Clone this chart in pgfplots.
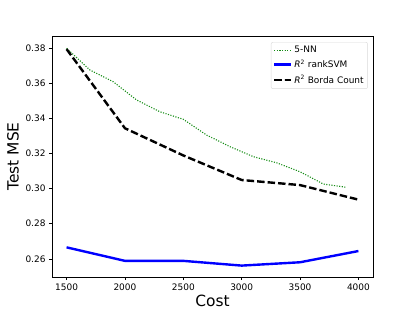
\documentclass[border=0pt]{standalone}
\usepackage{fontspec}
\setmainfont{DejaVu Sans}
\usepackage{pgfplots}
\pgfplotsset{compat=1.18}
\definecolor{mgreen}{RGB}{20,140,20}
\begin{document}
\begin{tikzpicture}
\useasboundingbox (-52bp,-34bp) rectangle (363bp,277bp);
\begin{axis}[
  scale only axis, width=321bp, height=241bp,
  at={(0,0)}, anchor=south west,
  xmin=1375, xmax=4125, ymin=0.2496, ymax=0.387,
  xtick={1500,2000,2500,3000,3500,4000},
  ytick={0.26,0.28,0.30,0.32,0.34,0.36,0.38},
  tick align=outside, tick pos=left,
  major tick length=3bp,
  every tick/.style={black, line width=0.5bp},
  axis line style={line width=0.6bp},
  /pgf/number format/assume math mode=true,
  x tick label style={/pgf/number format/1000 sep={}},
  y tick label style={/pgf/number format/fixed, /pgf/number format/precision=2, /pgf/number format/fixed zerofill},
  scaled y ticks=false,
  tick label style={font=\fontsize{9}{10}\selectfont},
  xlabel={Cost}, ylabel={Test MSE},
  label style={font=\fontsize{15.5}{18}\selectfont},
  xlabel style={at={(axis description cs:0.5,-0.1)}, anchor=center},
  ylabel style={at={(axis description cs:-0.1215,0.5)}, anchor=center},
  legend style={at={(0.984,0.975)}, anchor=north east, font=\fontsize{9}{10.5}\selectfont,
    draw=black!15, rounded corners=2bp, inner sep=2bp, row sep=1.5bp},
  legend cell align=left,
]
\addplot[mgreen, line width=1.1bp, dash pattern=on 1.1bp off 1.5bp] coordinates {
(1500,0.3800) (1700,0.3676) (1900,0.3609) (2100,0.3505) (2300,0.3438)
(2500,0.3395) (2700,0.3305) (2900,0.3239) (3100,0.3182) (3300,0.3147)
(3500,0.3096) (3700,0.3026) (3900,0.3007)};
\addlegendentry{5-NN}
\addplot[blue, line width=2.4bp] coordinates {
(1500,0.2665) (2000,0.2588) (2500,0.2588) (3000,0.2561) (3500,0.2580) (4000,0.2644)};
\addlegendentry{{\itshape R}\textsuperscript{2} rankSVM}
\addplot[black, line width=2.4bp, dash pattern=on 7.5bp off 3bp] coordinates {
(1500,0.3795) (2000,0.3344) (2500,0.3189) (3000,0.3049) (3500,0.3020) (4000,0.2937)};
\addlegendentry{{\itshape R}\textsuperscript{2} Borda Count}
\end{axis}
\end{tikzpicture}
\end{document}
